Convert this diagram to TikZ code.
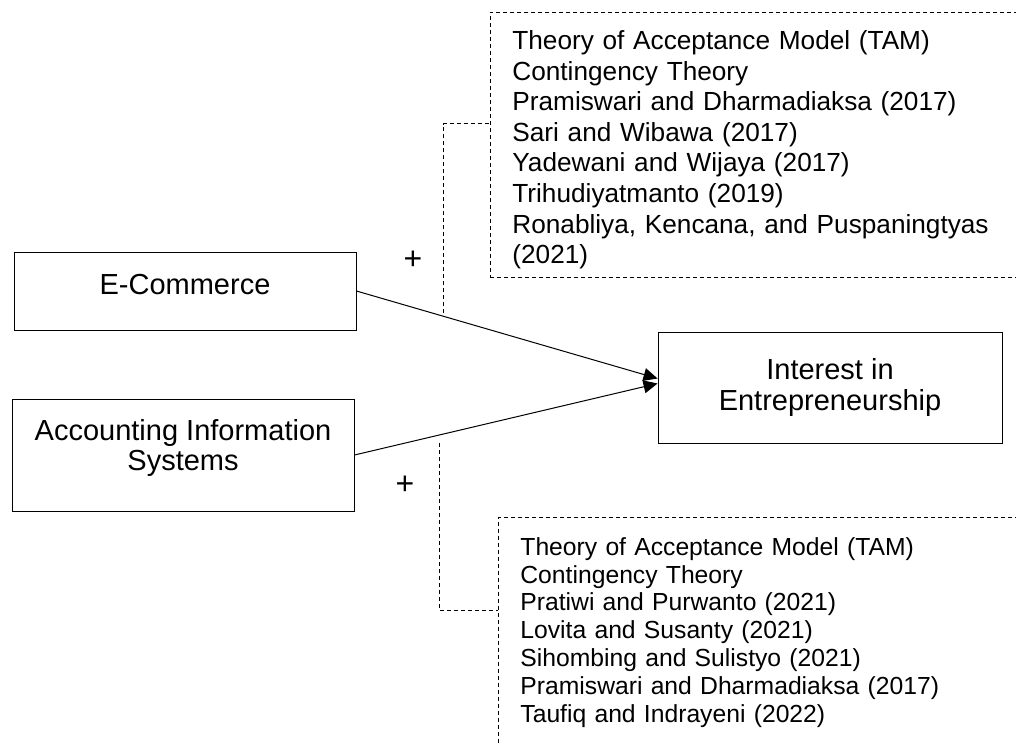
\documentclass[tikz,border=0pt]{standalone}
\usepackage{fontspec}
\setmainfont{Liberation Sans}
\usetikzlibrary{arrows.meta,calc}

\begin{document}
\begin{tikzpicture}[x=1pt, y=-1pt, >={Triangle[length=14pt,width=13pt]},
    block/.style={draw, line width=0.9pt, minimum width=342pt, align=center, font=\fontsize{29}{30.5}\selectfont},
    reflist/.style={draw, dash pattern=on 4pt off 3pt, line width=0.8pt, anchor=north west, align=left, text width=560pt, inner xsep=22pt},
    link/.style={dash pattern=on 4pt off 3pt, line width=0.8pt}]

    \clip (0,0) rectangle (1016,745);

    % variabel
    \node[block, minimum height=78pt, text depth=14pt] (ecom) at (185,291) {E-Commerce};
    \node[block, minimum height=112pt, text depth=20pt] (ais) at (183,455) {Accounting Information\\Systems};
    \node[block, minimum width=344pt, minimum height=111pt] (goal) at (830,387.5) {Interest in\\Entrepreneurship};

    \draw[->, line width=1pt] (ecom.east) -- ([yshift=9pt]goal.west);
    \draw[->, line width=1pt] (ais.east) -- ([yshift=4pt]goal.west);

    \node[font=\fontsize{32}{34}\selectfont] (plusa) at (413,260) {+};
    \node[font=\fontsize{32}{34}\selectfont] (plusb) at (405,485) {+};

    % teori dan penelitian terdahulu
    \node[reflist, font=\fontsize{26.2}{30.6}\selectfont, inner ysep=15pt, text height=22pt, text depth=213pt] (toplist) at (490,12) {Theory of Acceptance Model (TAM)\\
        Contingency Theory\\
        Pramiswari and Dharmadiaksa (2017)\\
        Sari and Wibawa (2017)\\
        Yadewani and Wijaya (2017)\\
        Trihudiyatmanto (2019)\\
        Ronabliya, Kencana, and Puspaningtyas\\
        (2021)};
    \node[reflist, font=\fontsize{24.7}{27.8}\selectfont, inner ysep=20pt] (botlist) at (498,517) {Theory of Acceptance Model (TAM)\\
        Contingency Theory\\
        Pratiwi and Purwanto (2021)\\
        Lovita and Susanty (2021)\\
        Sihombing and Sulistyo (2021)\\
        Pramiswari and Dharmadiaksa (2017)\\
        Taufiq and Indrayeni (2022)};

    \coordinate (tj) at ($(ecom.east)!0.288!([yshift=9pt]goal.west)$);
    \coordinate (bj) at ($(ais.east)!0.28!([yshift=4pt]goal.west)$);
    \coordinate (toplink) at ($(toplist.north west)!0.42!(toplist.south west)$);
    \coordinate (botlink) at ([yshift=-93pt]botlist.north west);

    \draw[link] ([yshift=3pt]tj) -- (tj |- toplink) -- (toplink);
    \draw[link] ([yshift=-8pt]bj) -- (bj |- botlink) -- (botlink);
\end{tikzpicture}
\end{document}
